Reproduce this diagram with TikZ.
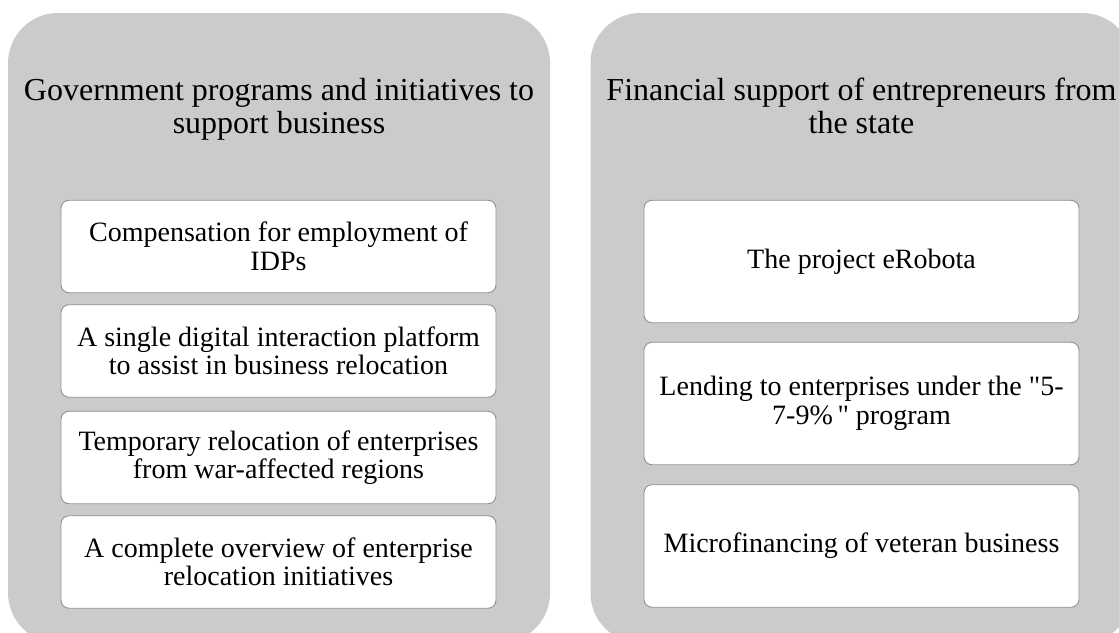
\documentclass[tikz,border=0pt]{standalone}
\usepackage{fontspec}
\setmainfont{Liberation Serif}
\newfontfamily\plainquotes{Liberation Serif}[Ligatures=TeXOff]
\definecolor{panelgray}{RGB}{203,203,203}
\definecolor{boxline}{RGB}{145,145,145}
\begin{document}
\begin{tikzpicture}[x=1pt,y=-1pt,
  panel/.style={fill=panelgray, draw=none, rounded corners=50pt, minimum width=542pt, minimum height=630pt, inner sep=0pt},
  title/.style={align=center, inner sep=0pt, anchor=north, font=\fontsize{32}{33}\selectfont},
  item/.style={draw=boxline, line width=0.9pt, fill=white, rounded corners=8pt, minimum width=435pt, align=center, inner sep=0pt, font=\fontsize{28}{28.5}\selectfont},
  leftitem/.style={item, minimum height=92.5pt},
  rightitem/.style={item, minimum height=122.5pt}
]
\useasboundingbox (0,0) rectangle (1119,632);
\begin{scope}
\clip (0,0) rectangle (1119,632);
\node[panel] (leftpanel) at (279,328) {};
\node[panel] (rightpanel) at (861.5,328) {};
\end{scope}

\node[title] (lefttitle) at (279,78) {Government programs and initiatives to\\support business};
\node[title] (righttitle) at (861.5,78) {Financial support of entrepreneurs from\\the state};

\node[leftitem] (l1) at (278.5,246.5) {Compensation for employment of\\IDPs};
\node[leftitem] (l2) at (278.5,351) {A single digital interaction platform\\to assist in business relocation};
\node[leftitem] (l3) at (278.5,457.5) {Temporary relocation of enterprises\\from war-affected regions};
\node[leftitem] (l4) at (278.5,562) {A complete overview of enterprise\\relocation initiatives};

\node[rightitem] (r1) at (861.5,261.5) {The project eRobota};
\node[rightitem, font=\fontsize{28}{28.5}\plainquotes] (r2) at (861.5,403.5) {Lending to enterprises under the "5-\\7-9\%\," program};
\node[rightitem] (r3) at (861.5,546) {Microfinancing of veteran business};
\end{tikzpicture}
\end{document}
